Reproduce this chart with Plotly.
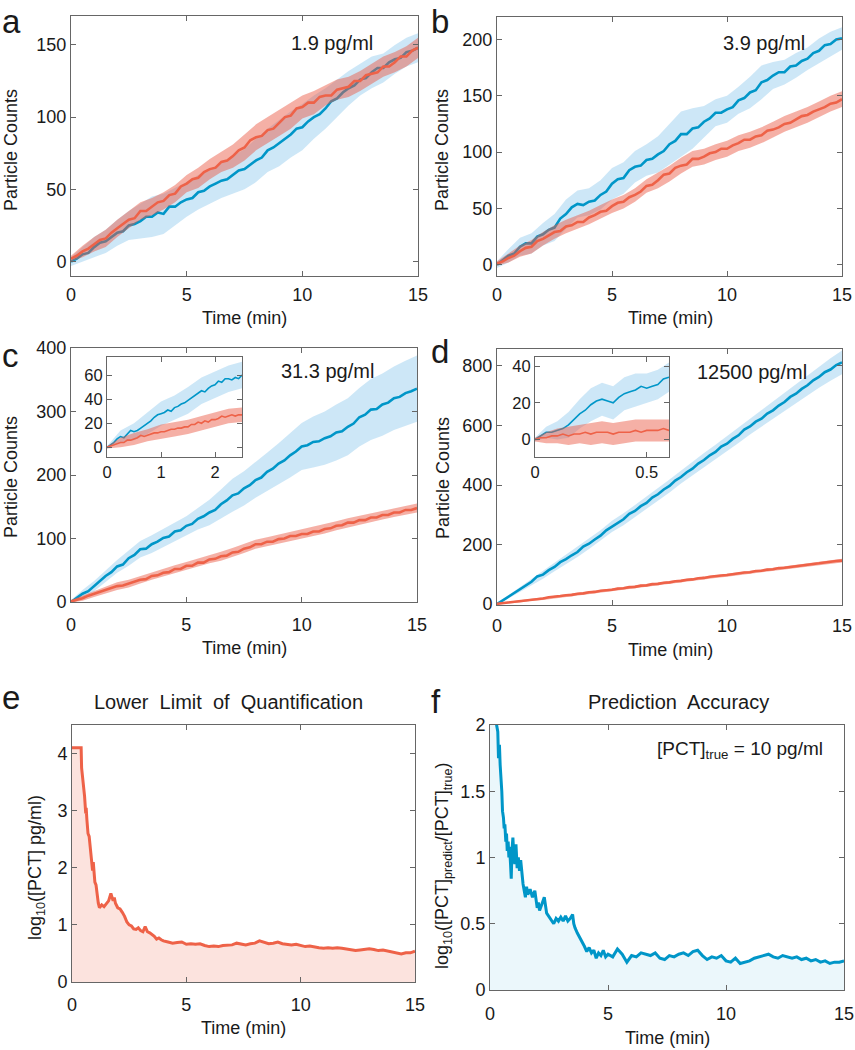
import plotly.graph_objects as go

W, H = 855, 1050

# ---------------- DATA ----------------
T_MAIN = [i * 0.25 for i in range(61)]
T_BAND = [i * 0.5 for i in range(31)]

A_BLUE = [0, 2, 5, 6, 10, 13, 14, 17, 20, 21, 25, 26, 28, 31, 31, 34, 33, 38, 38, 41, 43, 44, 48, 49, 52, 54, 56, 57, 60, 63, 64, 67,
          70, 72, 77, 79, 82, 85, 88, 92, 93, 97, 100, 102, 106, 111, 113, 117, 120, 122, 126, 127, 131, 134, 134, 138, 140, 141, 145, 146, 148]
A_RED = [2, 4, 7, 9, 12, 15, 16, 20, 23, 26, 29, 30, 35, 35, 38, 41, 42, 46, 47, 52, 54, 57, 58, 62, 64, 65, 69, 70, 73, 77, 79, 84,
         86, 87, 91, 92, 96, 100, 101, 106, 107, 110, 110, 114, 115, 115, 119, 120, 121, 125, 125, 129, 130, 131, 135, 135, 138, 142, 142, 146, 148]
A_BLUE_HW = [3, 5, 7, 8, 9, 10, 12, 14, 14, 13, 12, 12, 12, 12, 13, 14, 15, 15, 16, 16, 16, 15, 14, 13, 12, 11, 11, 10, 10, 10, 10]
A_RED_HW = [2, 4, 5, 6, 6, 6, 6, 6, 6, 6, 6, 7, 7, 7, 8, 9, 9, 9, 9, 9, 8, 8, 7, 7, 7, 7, 7, 7, 7, 7, 7]

B_BLUE = [0, 4, 8, 10, 16, 19, 19, 25, 27, 31, 33, 41, 45, 51, 54, 53, 56, 57, 62, 65, 72, 76, 77, 84, 87, 88, 93, 94, 98, 101, 107, 110,
          116, 116, 121, 122, 127, 130, 135, 135, 138, 140, 146, 148, 153, 155, 162, 164, 168, 171, 171, 176, 177, 181, 183, 188, 190, 195, 196, 200, 201]
B_RED = [1, 3, 6, 8, 12, 15, 16, 21, 23, 26, 29, 30, 34, 35, 38, 38, 42, 44, 47, 48, 52, 55, 56, 60, 62, 65, 70, 71, 75, 80, 81, 86,
         88, 89, 94, 94, 96, 99, 100, 103, 103, 106, 108, 111, 111, 114, 115, 119, 120, 122, 125, 126, 129, 132, 133, 136, 138, 140, 143, 144, 147]
B_BLUE_HW = [3, 6, 8, 9, 10, 12, 13, 12, 12, 13, 14, 14, 14, 14, 16, 18, 20, 18, 14, 12, 12, 12, 14, 15, 12, 11, 11, 10, 11, 11, 10]
B_RED_HW = [2, 4, 5, 6, 6, 6, 6, 6, 6, 6, 6, 6, 6, 6, 7, 7, 7, 7, 7, 7, 7, 7, 7, 7, 7, 7, 7, 7, 7, 7, 7]

C_BLUE = [0, 6, 13, 17, 25, 32, 41, 47, 56, 59, 69, 74, 83, 84, 91, 95, 101, 103, 111, 113, 120, 123, 131, 135, 141, 145, 154, 160, 168, 171, 179, 184,
          192, 196, 205, 210, 218, 223, 231, 237, 245, 247, 252, 253, 258, 261, 267, 269, 276, 281, 291, 295, 303, 304, 311, 314, 321, 323, 329, 332, 336]
C_RED = [1, 3, 6, 10, 13, 15, 19, 21, 25, 26, 29, 31, 35, 36, 41, 42, 46, 47, 52, 52, 57, 57, 62, 62, 67, 68, 72, 73, 78, 79, 84, 86,
         91, 91, 95, 95, 99, 100, 104, 104, 107, 107, 111, 111, 115, 116, 120, 121, 125, 125, 129, 129, 133, 133, 137, 137, 141, 141, 145, 145, 148]
C_BLUE_HW = [3, 6, 8, 9, 10, 12, 13, 14, 14, 15, 15, 17, 20, 23, 26, 27, 28, 30, 32, 35, 37, 40, 42, 44, 45, 46, 48, 49, 50, 51, 52]
C_RED_HW = [2, 4, 5, 5, 6, 6, 6, 6, 6, 6, 6, 6, 6, 7, 7, 7, 7, 7, 7, 7, 7, 7, 7, 7, 7, 7, 7, 7, 7, 7, 7]

D_BLUE = [0, 13, 24, 38, 49, 64, 75, 93, 99, 114, 125, 141, 151, 164, 175, 193, 203, 217, 230, 248, 261, 273, 285, 303, 313, 329, 340, 358, 369, 385, 397, 415,
          427, 443, 455, 472, 484, 500, 511, 529, 539, 555, 567, 586, 597, 613, 623, 640, 651, 667, 679, 696, 707, 723, 735, 752, 763, 779, 788, 803, 812]
D_RED = [1, 3, 5, 8, 9, 12, 15, 17, 19, 23, 24, 27, 30, 31, 35, 36, 40, 41, 45, 46, 48, 52, 53, 57, 58, 62, 63, 67, 68, 72, 73, 77,
         78, 82, 83, 87, 88, 92, 93, 96, 98, 101, 102, 106, 107, 111, 112, 116, 117, 121, 122, 125, 127, 130, 132, 135, 137, 140, 141, 145, 146]
D_BLUE_HW = [3, 6, 10, 12, 14, 15, 16, 17, 18, 18, 19, 20, 20, 20, 21, 22, 22, 23, 24, 24, 25, 26, 27, 28, 29, 30, 32, 34, 36, 38, 40]
D_RED_HW = [2, 3, 4, 4, 5, 5, 5, 5, 5, 5, 5, 5, 5, 5, 5, 5, 5, 5, 5, 5, 6, 6, 6, 6, 6, 6, 6, 6, 6, 6, 6]

# inset c
IC_T = [i * 0.0625 for i in range(41)]
IC_T_BAND = [i * 0.25 for i in range(11)]
IC_BLUE = [0, 2, 4, 7, 9, 8, 11, 14, 13, 14, 16, 18, 20, 22, 25, 27, 28, 29, 31, 30, 33, 34, 36, 37, 39, 41, 43, 45, 47, 46, 49, 51,
           52, 55, 54, 57, 57, 56, 58, 57, 60]
IC_RED = [0, 1, 2, 3, 4, 4, 6, 6, 7, 8, 10, 9, 10, 11, 12, 12, 13, 13, 14, 15, 15, 16, 16, 17, 17, 19, 19, 21, 20, 22, 21, 23,
          23, 24, 26, 25, 26, 27, 26, 27, 27]
IC_BLUE_HW = [1, 5, 7, 9, 10, 10, 11, 11, 11, 11, 11]
IC_RED_HW = [1, 4, 5, 5, 6, 6, 6, 6, 6, 6, 6]

# inset d
ID_T = [i * 0.025 for i in range(25)]
ID_T_BAND = [i * 0.05 for i in range(13)]
ID_BLUE = [0, 2, 4, 4, 5, 6, 8, 11, 14, 16, 19, 21, 22, 21, 20, 23, 25, 26, 27, 29, 28, 29, 30, 33, 34]
ID_RED = [0, 1, 1, 2, 2, 3, 2, 3, 3, 4, 3, 4, 4, 4, 3, 4, 4, 4, 5, 4, 5, 5, 5, 6, 5]
ID_BLUE_HW = [1, 3, 5, 7, 8, 9, 9, 9, 9, 9, 8, 8, 8]
ID_RED_HW = [1, 3, 4, 5, 5, 6, 6, 6, 6, 6, 6, 6, 6]

# panel e
E_T = [0, 0.4, 0.42, 0.5, 0.55, 0.6, 0.62, 0.65, 0.7, 0.75, 0.8, 0.85, 0.9, 0.93, 0.97, 1.0, 1.05, 1.1, 1.15, 1.2, 1.3, 1.4, 1.5,
       1.6, 1.7, 1.75, 1.8, 1.85, 1.9, 2.0, 2.1, 2.2, 2.3, 2.4, 2.5, 2.6, 2.7, 2.8, 2.9, 3.0, 3.1, 3.2, 3.3, 3.4, 3.5, 3.6, 3.7,
       3.8, 3.9, 4.0, 4.2, 4.4, 4.6, 4.8, 5.0, 5.2, 5.4, 5.6, 5.8, 6.0, 6.2, 6.4, 6.6, 6.8, 7.0, 7.2, 7.4, 7.6, 7.8, 8.0, 8.2,
       8.4, 8.6, 8.8, 9.0, 9.2, 9.4, 9.6, 9.8, 10.0, 10.2, 10.4, 10.6, 10.8, 11.0, 11.2, 11.4, 11.6, 11.8, 12.0, 12.2, 12.4,
       12.6, 12.8, 13.0, 13.2, 13.4, 13.6, 13.8, 14.0, 14.2, 14.4, 14.6, 14.8, 15.0]
E_V = [4.1, 4.1, 3.75, 3.45, 3.25, 2.95, 3.05, 2.85, 2.6, 2.55, 2.3, 2.15, 1.95, 2.1, 1.9, 1.75, 1.7, 1.5, 1.38, 1.3, 1.35, 1.32, 1.38,
       1.42, 1.55, 1.5, 1.42, 1.48, 1.38, 1.3, 1.28, 1.22, 1.15, 1.05, 1.0, 0.98, 0.93, 0.92, 0.95, 0.9, 0.88, 0.97, 0.88, 0.86, 0.83,
       0.8, 0.75, 0.77, 0.74, 0.72, 0.7, 0.68, 0.69, 0.7, 0.66, 0.67, 0.66, 0.67, 0.64, 0.62, 0.63, 0.62, 0.64, 0.64, 0.65, 0.68,
       0.66, 0.65, 0.67, 0.68, 0.72, 0.69, 0.67, 0.68, 0.7, 0.67, 0.66, 0.65, 0.66, 0.64, 0.62, 0.63, 0.61, 0.6, 0.59, 0.6, 0.59,
       0.6, 0.59, 0.58, 0.56, 0.55, 0.56, 0.57, 0.58, 0.57, 0.55, 0.56, 0.54, 0.52, 0.5, 0.49, 0.51, 0.51, 0.54]

# panel f
F_T = [0, 0.15, 0.28, 0.33, 0.36, 0.4, 0.43, 0.47, 0.5, 0.53, 0.57, 0.6, 0.63, 0.67, 0.7, 0.73, 0.77, 0.8, 0.83, 0.87, 0.9, 0.93,
       0.97, 1.0, 1.05, 1.1, 1.15, 1.2, 1.25, 1.3, 1.35, 1.4, 1.45, 1.5, 1.55, 1.6, 1.7, 1.8, 1.9, 2.0, 2.05, 2.1, 2.2, 2.3, 2.4,
       2.5, 2.6, 2.7, 2.8, 2.9, 3.0, 3.1, 3.2, 3.3, 3.4, 3.5, 3.55, 3.6, 3.7, 3.8, 3.9, 4.0, 4.1, 4.2, 4.3, 4.4, 4.5, 4.6, 4.7,
       4.8, 4.9, 5.0, 5.2, 5.4, 5.6, 5.8, 6.0, 6.2, 6.4, 6.6, 6.8, 7.0, 7.2, 7.4, 7.6, 7.8, 8.0, 8.2, 8.4, 8.6, 8.8, 9.0, 9.2,
       9.4, 9.6, 9.8, 10.0, 10.2, 10.4, 10.6, 10.8, 11.0, 11.2, 11.4, 11.6, 11.8, 12.0, 12.2, 12.4, 12.6, 12.8, 13.0, 13.2,
       13.4, 13.6, 13.8, 14.0, 14.2, 14.4, 14.6, 14.8, 15.0]
F_V = [3.6, 2.6, 2.0, 1.95, 1.75, 1.85, 1.7, 1.6, 1.5, 1.35, 1.3, 1.22, 1.25, 1.12, 1.18, 1.05, 1.12, 1.0, 1.08, 0.95, 0.84, 1.05,
       1.15, 1.05, 0.95, 1.1, 0.92, 1.0, 0.9, 0.98, 0.85, 0.8, 0.75, 0.7, 0.78, 0.72, 0.76, 0.7, 0.75, 0.62, 0.66, 0.6, 0.65, 0.7,
       0.58, 0.55, 0.52, 0.5, 0.54, 0.52, 0.55, 0.52, 0.56, 0.52, 0.54, 0.57, 0.5, 0.47, 0.43, 0.4, 0.37, 0.33, 0.29, 0.32, 0.28,
       0.3, 0.24, 0.28, 0.26, 0.3, 0.25, 0.27, 0.25, 0.31, 0.27, 0.21, 0.26, 0.25, 0.28, 0.27, 0.26, 0.28, 0.24, 0.23, 0.26, 0.25,
       0.27, 0.28, 0.26, 0.29, 0.3, 0.26, 0.23, 0.25, 0.24, 0.26, 0.22, 0.21, 0.24, 0.2, 0.21, 0.22, 0.24, 0.25, 0.26, 0.27, 0.25,
       0.24, 0.26, 0.25, 0.24, 0.25, 0.23, 0.24, 0.22, 0.23, 0.21, 0.22, 0.2, 0.21, 0.21, 0.22]

CONC_LABELS = ["1.9 pg/ml", "3.9 pg/ml", "31.3 pg/ml", "12500 pg/ml"]
PANEL_LETTERS = ["a", "b", "c", "d", "e", "f"]

# ---------------- STYLE ----------------
BLUE = "#0096C8"
RED = "#EE6248"
BLUE_FILL = "rgba(100,180,230,0.32)"
RED_FILL = "rgba(235,90,70,0.48)"
E_FILL = "rgba(238,98,72,0.18)"
F_FILL = "rgba(0,150,200,0.08)"
FONT = "Arial, Liberation Sans, Helvetica, sans-serif"
TXT = "#1a1a1a"
AXC = "#666666"

fig = go.Figure()


def band(t, mean, step, hw, fill, xa, ya):
    c = mean[::step]
    up = [m + h for m, h in zip(c, hw)]
    lo = [m - h for m, h in zip(c, hw)]
    fig.add_trace(go.Scatter(x=list(t) + list(t)[::-1], y=up + lo[::-1], fill="toself",
                             fillcolor=fill, line=dict(width=0), mode="lines",
                             xaxis=xa, yaxis=ya, showlegend=False, hoverinfo="skip"))


def line(t, y, color, width, xa, ya, fill=None, fillcolor=None):
    fig.add_trace(go.Scatter(x=t, y=y, mode="lines", line=dict(color=color, width=width),
                             fill=fill, fillcolor=fillcolor,
                             xaxis=xa, yaxis=ya, showlegend=False))


main = [
    (A_BLUE, A_RED, A_BLUE_HW, A_RED_HW, "x", "y"),
    (B_BLUE, B_RED, B_BLUE_HW, B_RED_HW, "x2", "y2"),
    (C_BLUE, C_RED, C_BLUE_HW, C_RED_HW, "x3", "y3"),
    (D_BLUE, D_RED, D_BLUE_HW, D_RED_HW, "x4", "y4"),
]
for bl, rd, bhw, rhw, xa, ya in main:
    band(T_BAND, bl, 2, bhw, BLUE_FILL, xa, ya)
    line(T_MAIN, bl, BLUE, 2.6, xa, ya)
    band(T_BAND, rd, 2, rhw, RED_FILL, xa, ya)
    line(T_MAIN, rd, RED, 2.6, xa, ya)

band(IC_T_BAND, IC_BLUE, 4, IC_BLUE_HW, BLUE_FILL, "x5", "y5")
line(IC_T, IC_BLUE, BLUE, 1.6, "x5", "y5")
band(IC_T_BAND, IC_RED, 4, IC_RED_HW, RED_FILL, "x5", "y5")
line(IC_T, IC_RED, RED, 1.6, "x5", "y5")

band(ID_T_BAND, ID_BLUE, 2, ID_BLUE_HW, BLUE_FILL, "x6", "y6")
line(ID_T, ID_BLUE, BLUE, 1.6, "x6", "y6")
band(ID_T_BAND, ID_RED, 2, ID_RED_HW, RED_FILL, "x6", "y6")
line(ID_T, ID_RED, RED, 1.6, "x6", "y6")

line(E_T, E_V, RED, 3, "x7", "y7", fill="tozeroy", fillcolor=E_FILL)
line(F_T, F_V, BLUE, 3, "x8", "y8", fill="tozeroy", fillcolor=F_FILL)


def dx(x0, x1):
    return [x0 / W, x1 / W]


def dy(top, bottom):
    return [1 - bottom / H, 1 - top / H]


def axis(domain, rng, tickvals, anchor, size=18, standoff=None):
    d = dict(domain=domain, range=rng, tickvals=tickvals, anchor=anchor, automargin=False,
             showline=True, mirror="ticks", linecolor=AXC, linewidth=1,
             ticks="inside", ticklen=5, tickcolor=AXC, showgrid=False, zeroline=False,
             fixedrange=True,
             tickfont=dict(family=FONT, size=size, color=TXT))
    if standoff is not None:
        d["ticklabelstandoff"] = standoff
    return d


layout = dict(
    width=W, height=H, margin=dict(l=0, r=0, t=0, b=0, pad=0), autosize=False,
    paper_bgcolor="white", plot_bgcolor="white", showlegend=False,
    xaxis=axis(dx(71, 418), [0, 15], [0, 5, 10, 15], "y", standoff=2),
    yaxis=axis(dy(16, 276), [-10, 170], [0, 50, 100, 150], "x"),
    xaxis2=axis(dx(497, 842), [0, 15], [0, 5, 10, 15], "y2", standoff=2),
    yaxis2=axis(dy(17, 276), [-10, 220], [0, 50, 100, 150, 200], "x2"),
    xaxis3=axis(dx(71, 417), [0, 15], [0, 5, 10, 15], "y3", standoff=6),
    yaxis3=axis(dy(348, 602), [0, 400], [0, 100, 200, 300, 400], "x3"),
    xaxis4=axis(dx(497, 842), [0, 15], [0, 5, 10, 15], "y4", standoff=4),
    yaxis4=axis(dy(349, 605), [-3, 857], [0, 200, 400, 600, 800], "x4"),
    xaxis5=axis(dx(107, 242), [0, 2.5], [0, 1, 2], "y5", 16.5),
    yaxis5=axis(dy(357, 457), [-8, 75], [0, 20, 40, 60], "x5", 16.5),
    xaxis6=axis(dx(535, 669), [0, 0.6], [0, 0.5], "y6", 16.5),
    yaxis6=axis(dy(357, 457), [-9.5, 45], [0, 20, 40], "x6", 16.5),
    xaxis7=axis(dx(72, 415), [0, 15], [0, 5, 10, 15], "y7", standoff=6),
    yaxis7=axis(dy(725, 982), [0, 4.5], [0, 1, 2, 3, 4], "x7"),
    xaxis8=axis(dx(490, 844), [0, 15], [0, 5, 10, 15], "y8", standoff=7),
    yaxis8=axis(dy(725, 990), [0, 2], [0, 0.5, 1, 1.5, 2], "x8"),
)
fig.update_layout(**layout)


def ann(text, x, y, size=18, angle=0, xanchor="center", yanchor="middle"):
    fig.add_annotation(text=text, x=x / W, y=1 - y / H, xref="paper", yref="paper",
                       showarrow=False, textangle=angle, xanchor=xanchor, yanchor=yanchor,
                       font=dict(family=FONT, size=size, color=TXT))


# panel letters
for letter, (lx, ly) in zip(PANEL_LETTERS, [(0, 21), (429, 21), (0, 355), (429, 351), (0, 697), (429, 701)]):
    ann(letter, lx, ly, size=33, xanchor="left")

# concentration labels
for lab, (cx, cy) in zip(CONC_LABELS, [(332, 43), (764, 43), (327, 371), (752, 372)]):
    ann(lab, cx, cy, size=20)

# axis titles
for (x, y) in [(11, 150), (442, 150), (11, 477), (443, 478)]:
    ann("Particle Counts", x, y, size=18, angle=-90)
for (x, y) in [(244, 318), (670, 318), (244, 648), (670, 650), (243, 1028), (667, 1038)]:
    ann("Time (min)", x, y, size=18)
ann("log<sub>10</sub>([PCT] pg/ml)", 36, 868, size=18, angle=-90)
ann("log<sub>10</sub>([PCT]<sub>predict</sub>/[PCT]<sub>true</sub>)", 443, 866, size=18, angle=-90)

# titles
ann("Lower  Limit  of  Quantification", 228, 702, size=20)
ann("Prediction  Accuracy", 678, 702, size=20)
ann("[PCT]<sub>true</sub> = 10 pg/ml", 740, 750, size=19)

fig.write_html("out.html", config={"displayModeBar": False},
               post_script="document.body.style.margin='0px';document.body.style.overflow='hidden';")
